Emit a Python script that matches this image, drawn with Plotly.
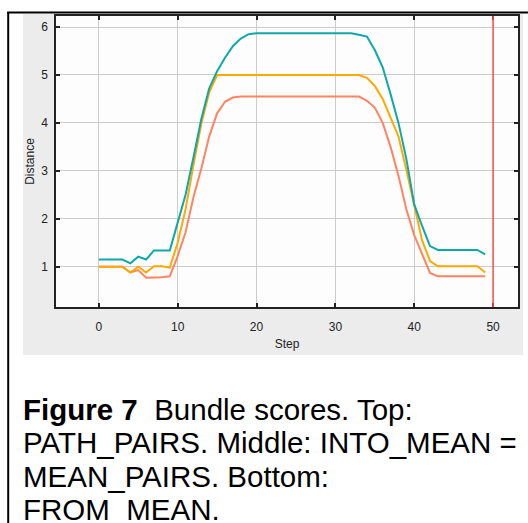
import plotly.graph_objects as go

# Bundle scores per optimisation step
steps = list(range(50))

path_pairs = [1.15, 1.15, 1.15, 1.15, 1.07, 1.21, 1.15, 1.34, 1.34, 1.34,
              1.92, 2.50, 3.28, 4.08, 4.72, 5.08, 5.36, 5.60, 5.76, 5.85,
              5.87, 5.87, 5.87, 5.87, 5.87, 5.87, 5.87, 5.87, 5.87, 5.87,
              5.87, 5.87, 5.87, 5.84, 5.80, 5.52, 5.16, 4.60, 4.00, 3.25,
              2.30, 1.85, 1.43, 1.35, 1.35, 1.35, 1.35, 1.35, 1.35, 1.26]

into_mean = [1.00, 1.00, 1.00, 1.00, 0.88, 1.00, 0.88, 1.01, 1.01, 0.98,
             1.50, 2.20, 3.12, 3.98, 4.64, 5.00, 5.00, 5.00, 5.00, 5.00,
             5.00, 5.00, 5.00, 5.00, 5.00, 5.00, 5.00, 5.00, 5.00, 5.00,
             5.00, 5.00, 5.00, 5.00, 4.94, 4.77, 4.50, 4.12, 3.72, 3.02,
             2.25, 1.55, 1.12, 1.01, 1.01, 1.01, 1.01, 1.01, 1.01, 0.88]

from_mean = [1.00, 1.00, 1.00, 1.00, 0.88, 0.93, 0.77, 0.77, 0.78, 0.80,
             1.22, 1.72, 2.45, 3.05, 3.72, 4.20, 4.44, 4.53, 4.55, 4.55,
             4.55, 4.55, 4.55, 4.55, 4.55, 4.55, 4.55, 4.55, 4.55, 4.55,
             4.55, 4.55, 4.55, 4.55, 4.46, 4.32, 4.00, 3.50, 2.90, 2.20,
             1.66, 1.28, 0.87, 0.80, 0.80, 0.80, 0.80, 0.80, 0.80, 0.80]

current_step = 50

x_ticks = [0, 10, 20, 30, 40, 50]
y_ticks = [1, 2, 3, 4, 5, 6]

caption_lines = [
    "<b>Figure 7</b>\u00a0 Bundle scores. Top:",
    "PATH_PAIRS. Middle: INTO_MEAN =",
    "MEAN_PAIRS. Bottom:",
    "FROM_MEAN.",
]

W, H = 528, 523
L, R, T, B = 56, 520, 16, 307


def px(xp):
    return (xp - L) / (R - L)


def py(yp):
    return (B - yp) / (B - T)


fig = go.Figure()
fig.add_trace(go.Scatter(x=steps, y=from_mean, mode="lines",
                         line=dict(color="#ff8462", width=2)))
fig.add_trace(go.Scatter(x=steps, y=into_mean, mode="lines",
                         line=dict(color="#ffa800", width=2)))
fig.add_trace(go.Scatter(x=steps, y=path_pairs, mode="lines",
                         line=dict(color="#0fa8a8", width=2)))

shapes = [
    # grey chart panel
    dict(type="rect", xref="paper", yref="paper", layer="below",
         x0=px(23), x1=px(525), y0=py(355), y1=py(14),
         fillcolor="#ececec", line=dict(width=0)),
    # plotting area
    dict(type="rect", xref="paper", yref="paper", layer="below",
         x0=0, x1=1, y0=0, y1=1, fillcolor="#fdfdfd", line=dict(width=0)),
    # outer frame
    dict(type="line", xref="paper", yref="paper",
         x0=px(7), x1=px(530), y0=py(12.5), y1=py(12.5),
         line=dict(color="#000000", width=2)),
    dict(type="line", xref="paper", yref="paper",
         x0=px(8), x1=px(8), y0=py(12), y1=py(530),
         line=dict(color="#000000", width=2)),
    # current step marker
    dict(type="line", xref="x", yref="paper",
         x0=current_step, x1=current_step, y0=0, y1=1,
         line=dict(color="#ff5050", width=1.5)),
]

annotations = []
line_centres = [409, 442.5, 476, 509.5]
for text, yc in zip(caption_lines, line_centres):
    annotations.append(dict(
        text=text, xref="paper", yref="paper", x=px(21), y=py(yc),
        xanchor="left", yanchor="middle", showarrow=False,
        font=dict(family="Liberation Sans, Arial", size=29.5, color="#000000")))

axis_common = dict(
    showgrid=True, gridcolor="#cccccc", gridwidth=1,
    showline=True, linecolor="#222222", linewidth=1.5, mirror="ticks",
    ticks="inside", ticklen=4, tickwidth=1.5, tickcolor="#222222",
    zeroline=False,
    tickfont=dict(family="Liberation Sans, Arial", size=12, color="#222222"),
)

fig.update_layout(
    width=W, height=H,
    margin=dict(l=L, r=W - R, t=T, b=H - B, pad=0),
    paper_bgcolor="#ffffff", plot_bgcolor="#fdfdfd",
    showlegend=False,
    shapes=shapes,
    annotations=annotations,
    xaxis=dict(range=[-5.43, 53.16], tickvals=x_ticks, ticklabelstandoff=8,
               title=dict(text="Step", standoff=6,
                          font=dict(family="Liberation Sans, Arial", size=12, color="#222222")),
               **axis_common),
    yaxis=dict(range=[0.16, 6.23], tickvals=y_ticks, ticklabelstandoff=4,
               title=dict(text="Distance", standoff=4,
                          font=dict(family="Liberation Sans, Arial", size=12, color="#222222")),
               **axis_common),
)

fig.write_html("out.html")
